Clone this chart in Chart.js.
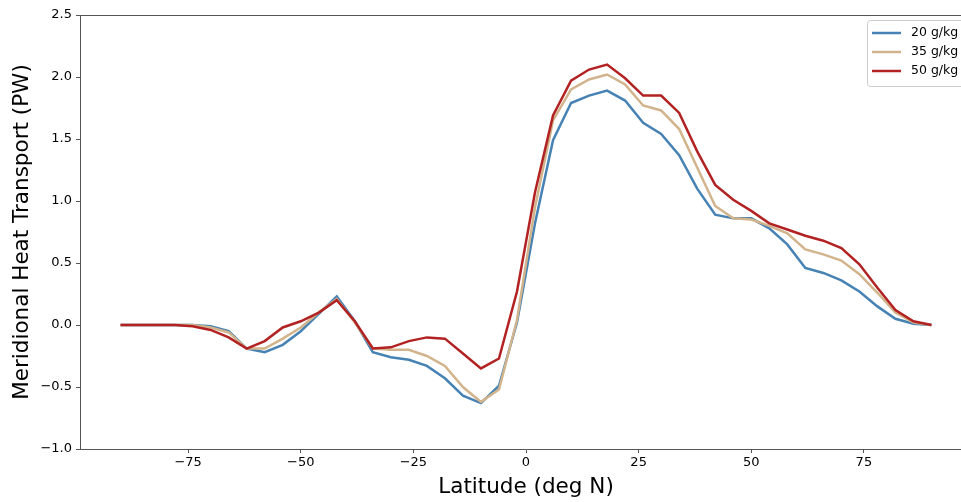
<!DOCTYPE html>
<html lang="en">
<head>
    <meta charset="UTF-8">
    <title>Meridional Heat Transport</title>
    <script src="https://cdn.jsdelivr.net/npm/chart.js"></script>
    <style>
        html, body { margin: 0; background: #fff; overflow: hidden; }
        #wrap { width: 961px; height: 502px; overflow: hidden; }
    </style>
</head>
<body>
    <div id="wrap"><canvas id="mhtChart" width="972" height="502"></canvas></div>

    <script>
        // latitude (deg N)
        var latitudes = [-90, -86, -82, -78, -74, -70, -66, -62, -58, -54, -50, -46, -42, -38, -34, -30,
                         -26, -22, -18, -14, -10, -6, -2, 2, 6, 10, 14, 18, 22, 26, 30, 34,
                         38, 42, 46, 50, 54, 58, 62, 66, 70, 74, 78, 82, 86, 90];

        // heat transport (PW) for each salinity
        var mht20 = [0, 0, 0, 0, 0, -0.01, -0.05, -0.19, -0.22, -0.16, -0.05, 0.09, 0.23, 0.03, -0.22, -0.26,
                     -0.28, -0.33, -0.43, -0.57, -0.63, -0.49, 0.02, 0.82, 1.49, 1.79, 1.85, 1.89, 1.81, 1.63, 1.54, 1.37,
                     1.10, 0.89, 0.86, 0.86, 0.78, 0.65, 0.46, 0.42, 0.36, 0.27, 0.15, 0.05, 0.01, 0];
        var mht35 = [0, 0, 0, 0, 0, -0.02, -0.06, -0.19, -0.19, -0.11, -0.02, 0.10, 0.21, 0.02, -0.19, -0.20,
                     -0.20, -0.25, -0.33, -0.50, -0.62, -0.52, 0.04, 0.95, 1.65, 1.90, 1.98, 2.02, 1.94, 1.77, 1.73, 1.58,
                     1.27, 0.96, 0.86, 0.85, 0.80, 0.74, 0.61, 0.57, 0.52, 0.41, 0.26, 0.10, 0.02, 0];
        var mht50 = [0, 0, 0, 0, -0.01, -0.04, -0.10, -0.19, -0.13, -0.02, 0.03, 0.10, 0.20, 0.03, -0.19, -0.18,
                     -0.13, -0.10, -0.11, -0.23, -0.35, -0.27, 0.27, 1.07, 1.69, 1.97, 2.06, 2.10, 1.99, 1.85, 1.85, 1.71,
                     1.40, 1.13, 1.01, 0.92, 0.82, 0.77, 0.72, 0.68, 0.62, 0.49, 0.30, 0.12, 0.03, 0];

        var seriesLabels = ['20 g/kg', '35 g/kg', '50 g/kg'];
        var seriesColors = ['#4682b4', '#d2b48c', '#b22222'];

        var xTicks = [-75, -50, -25, 0, 25, 50, 75];
        var yTicks = [-1.0, -0.5, 0.0, 0.5, 1.0, 1.5, 2.0, 2.5];

        var spineColor = '#555555';

        function toPoints(ys) {
            return latitudes.map(function (lat, i) { return { x: lat, y: ys[i] }; });
        }

        function minusSign(s) {
            return s.replace('-', '\u2212');
        }

        // top spine + legend box like matplotlib
        var extras = {
            id: 'extras',
            afterDraw: function (chart) {
                var ctx = chart.ctx;
                var area = chart.chartArea;
                ctx.save();
                ctx.strokeStyle = spineColor;
                ctx.lineWidth = 1;
                ctx.beginPath();
                ctx.moveTo(area.left, area.top + 0.5);
                ctx.lineTo(area.right, area.top + 0.5);
                ctx.stroke();

                // legend
                var bx = 867.5, by = 20.5, bw = 98, bh = 66;
                ctx.fillStyle = 'rgba(255,255,255,0.8)';
                ctx.strokeStyle = '#cccccc';
                ctx.beginPath();
                ctx.roundRect(bx, by, bw, bh, 3);
                ctx.fill();
                ctx.stroke();

                ctx.font = '12.5px "DejaVu Sans"';
                ctx.textBaseline = 'middle';
                for (var i = 0; i < seriesLabels.length; i++) {
                    var ly = 33 + i * 19;
                    ctx.strokeStyle = seriesColors[i];
                    ctx.lineWidth = 2.5;
                    ctx.beginPath();
                    ctx.moveTo(872, ly);
                    ctx.lineTo(901, ly);
                    ctx.stroke();
                    ctx.fillStyle = '#000';
                    ctx.fillText(seriesLabels[i], 911, ly);
                }
                ctx.restore();
            }
        };

        Chart.defaults.font.family = '"DejaVu Sans", sans-serif';
        Chart.defaults.color = '#000';

        var ctx = document.getElementById('mhtChart').getContext('2d');
        var mhtChart = new Chart(ctx, {
            type: 'line',
            data: {
                datasets: [
                    { label: seriesLabels[0], data: toPoints(mht20), borderColor: seriesColors[0], order: 2 },
                    { label: seriesLabels[1], data: toPoints(mht35), borderColor: seriesColors[1], order: 1 },
                    { label: seriesLabels[2], data: toPoints(mht50), borderColor: seriesColors[2], order: 0 }
                ]
            },
            options: {
                responsive: false,
                animation: false,
                layout: { padding: { top: 15, right: 0, left: 0, bottom: 0 } },
                elements: {
                    point: { radius: 0 },
                    line: { borderWidth: 2.5, tension: 0, fill: false }
                },
                plugins: {
                    legend: { display: false },
                    tooltip: { enabled: false }
                },
                scales: {
                    x: {
                        type: 'linear',
                        min: -99,
                        max: 99,
                        afterBuildTicks: function (scale) {
                            scale.ticks = xTicks.map(function (v) { return { value: v }; });
                        },
                        afterFit: function (scale) { scale.height = 53; },
                        ticks: {
                            font: { size: 13 },
                            padding: 2,
                            maxRotation: 0,
                            callback: function (v) { return minusSign(String(v)); }
                        },
                        grid: { drawOnChartArea: false, drawTicks: true, tickLength: 4, color: spineColor },
                        border: { display: true, color: spineColor },
                        title: {
                            display: true,
                            text: 'Latitude (deg N)',
                            font: { size: 21.5 },
                            padding: { top: 0, bottom: 2 }
                        }
                    },
                    y: {
                        type: 'linear',
                        min: -1.0,
                        max: 2.5,
                        afterBuildTicks: function (scale) {
                            scale.ticks = yTicks.map(function (v) { return { value: v }; });
                        },
                        afterFit: function (scale) { scale.width = 80; },
                        ticks: {
                            font: { size: 13 },
                            padding: 4,
                            callback: function (v) { return minusSign(v.toFixed(1)); }
                        },
                        grid: { drawOnChartArea: false, drawTicks: true, tickLength: 4, color: spineColor },
                        border: { display: true, color: spineColor },
                        title: {
                            display: true,
                            text: 'Meridional Heat Transport (PW)',
                            font: { size: 21.5 },
                            padding: { top: 10, bottom: 0 }
                        }
                    }
                }
            },
            plugins: [extras]
        });
    </script>
</body>
</html>
